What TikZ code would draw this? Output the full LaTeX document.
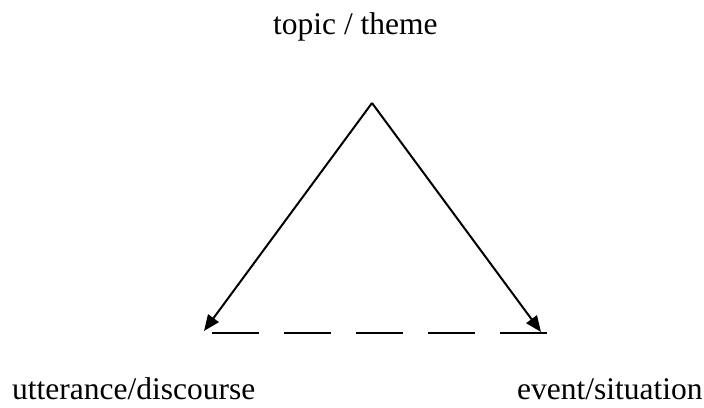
\documentclass[tikz,border=0pt]{standalone}
\usepackage{fontspec}
\setmainfont{Liberation Serif}
\usetikzlibrary{arrows.meta}
\begin{document}
\begin{tikzpicture}[x=1pt,y=-1pt,
  lbl/.style={inner sep=0pt,anchor=base west,font=\fontsize{31.5}{36}\selectfont},
  arr/.style={line width=2pt,-{Triangle[length=16pt,width=13pt]}},
  dash line/.style={line width=1.8pt,dash pattern=on 47pt off 25pt}]
\useasboundingbox (0,0) rectangle (704,407);
\node[lbl] (topic) at (273,34) {topic / theme};
\node[lbl] (utt) at (12,399) {utterance/discourse};
\node[lbl] (evt) at (517,399) {event/situation};
\coordinate (apex) at (372,103);
\coordinate (lend) at (204,331);
\coordinate (rend) at (541,332);
\coordinate (dl) at (212,333);
\coordinate (dr) at (547,333);
\draw[arr] (apex) -- (lend);
\draw[arr] (apex) -- (rend);
\draw[dash line] (dl) -- (dr);
\end{tikzpicture}
\end{document}
